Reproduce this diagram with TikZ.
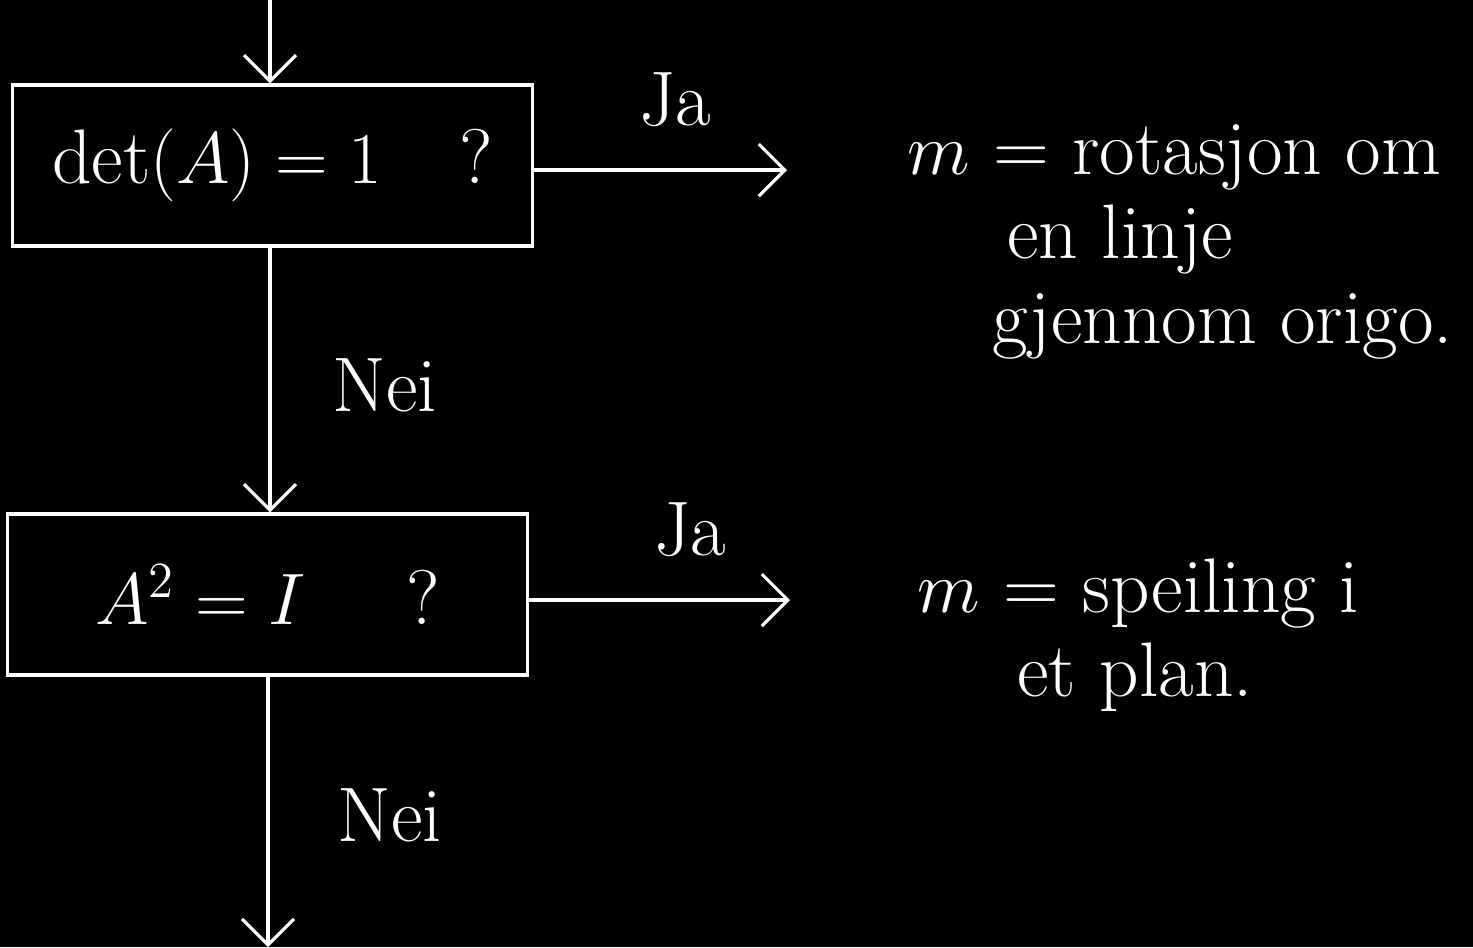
\documentclass[tikz,border=0pt]{standalone}
\usetikzlibrary{arrows.meta}
\begin{document}
\begin{tikzpicture}[x=0.01cm,y=-0.01cm,
  every node/.style={text=white},
  box/.style={draw=white,line width=0.9pt,minimum width=5.19cm,minimum height=1.61cm,inner sep=0pt,font=\fontsize{22}{26}\selectfont},
  conn/.style={draw=white,line width=0.9pt,-{Straight Barb[length=2.6mm,width=5.2mm,line width=0.9pt]}},
  lab/.style={font=\fontsize{22}{26}\selectfont},
  txt/.style={font=\fontsize{22}{26}\selectfont,align=left,anchor=north west}]
\fill[black] (0,0) rectangle (1473,947);
\useasboundingbox (0,0) rectangle (1473,947);
\node[box] (b1) at (272.5,165.5) {det$(A) = 1$\quad ?};
\node[box] (b2) at (267.5,594.5) {$A^2 = I$\quad\ ?};
\coordinate (top) at (270,0);
\coordinate (bot) at (268,947);
\coordinate (r1) at (787,170);
\coordinate (r2) at (790,600);
\draw[conn] (top) -- (top |- b1.north);
\draw[conn] (b1.south -| 270,0) -- (b2.north -| 270,0);
\draw[conn] (b2.south -| 268,0) -- (bot);
\draw[conn] (b1.east |- r1) -- (r1);
\draw[conn] (b2.east |- r2) -- (r2);
\node[lab] (ja1) at (675,100) {Ja};
\node[lab] (ja2) at (690,530) {Ja};
\node[lab] (nei1) at (385,385) {Nei};
\node[lab] (nei2) at (390,815) {Nei};
\node[txt] (t1) at (895,112) {$m$ = rotasjon om\\[-2pt]\hspace*{1.0cm}en linje\\[-2pt]\hspace*{0.85cm}gjennom origo.};
\node[txt] (t2) at (905,546) {$m$ = speiling i\\[-2pt]\hspace*{1.0cm}et plan.};
\end{tikzpicture}
\end{document}
